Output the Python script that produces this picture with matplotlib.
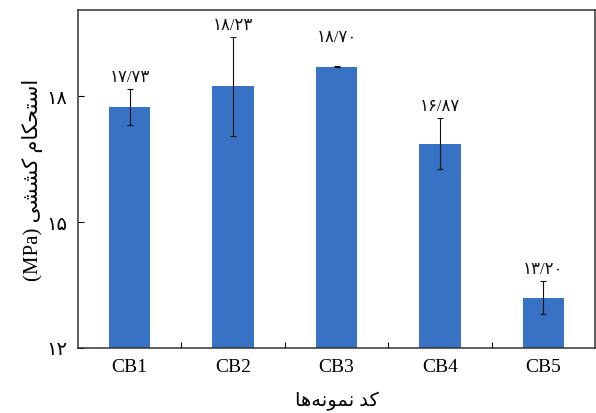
import numpy as np
import matplotlib
matplotlib.use("Agg")
import matplotlib.pyplot as plt

# نمونه‌ها و استحکام کششی (MPa)
samples = ["CB1", "CB2", "CB3", "CB4", "CB5"]
strength = [17.73, 18.23, 18.70, 16.87, 13.20]
strength_err = [0.43, 1.18, 0.01, 0.60, 0.40]
y_ticks = [12, 15, 18]

BAR_COLOR = "#3872C4"
FONTS = ["Liberation Serif", "DejaVu Sans"]

# ارقام فارسی
FA_DIGITS = str.maketrans("0123456789.", "۰۱۲۳۴۵۶۷۸۹/")


def fa_num(v, fmt="{:.2f}"):
    return fmt.format(v).translate(FA_DIGITS)


# متن فارسی به ترتیب دیداری (شکل‌های اتصالی + چپ به راست)
YLABEL = "(MPa) " + "\uFBFD\uFEB8\uFEB8\uFB90" + " " + \
         "\uFEE1\uFE8E\uFB91\uFEA4\uFE98\uFEB3\uFE8D"
XLABEL = "\uFE8E\uFEEB\uFEEA\uFEE7\uFEEE\uFEE4\uFEE7" + " " + "\uFEAA\uFB90"

plt.rcParams["font.family"] = FONTS

fig = plt.figure(figsize=(5.96, 4.14), dpi=100)
ax = fig.add_axes([78 / 596, 1 - 349 / 414, 517 / 596, 338 / 414])

x = np.arange(len(samples))
ax.bar(x, strength, width=0.4, color=BAR_COLOR, zorder=2)
ax.errorbar(x, strength, yerr=strength_err, fmt="none", ecolor="#111111",
            elinewidth=0.8, capsize=2, capthick=0.8, zorder=3)

for i, (v, e) in enumerate(zip(strength, strength_err)):
    off = 15 if e < 0.05 else 3
    ax.annotate(fa_num(v), (x[i], v + e), xytext=(0, off),
                textcoords="offset points", ha="center", va="bottom",
                fontsize=12, color="#111111")

ax.set_xlim(-0.5, len(samples) - 0.5)
ax.set_ylim(12, 20.05)
ax.set_xticks(x)
ax.set_xticklabels(samples, fontsize=14)
ax.set_xticks(x[:-1] + 0.5, minor=True)
ax.set_yticks(y_ticks)
ax.set_yticklabels([fa_num(t, "{:d}") for t in y_ticks], fontsize=14)
ax.tick_params(axis="x", which="major", length=0, pad=7)
ax.tick_params(axis="x", which="minor", direction="in", length=4, width=0.8)
ax.tick_params(axis="y", direction="in", length=4, width=0.8, pad=8)

for s in ax.spines.values():
    s.set_color("#333333")
    s.set_linewidth(1.1)

ax.set_ylabel(YLABEL, fontsize=15, labelpad=2)
ax.set_xlabel(XLABEL, fontsize=14, labelpad=12)

fig.savefig("out.png", dpi=100)
plt.close(fig)
